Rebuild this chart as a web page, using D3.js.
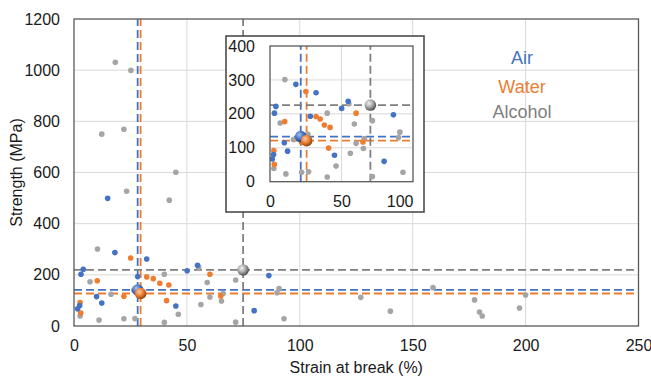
<!DOCTYPE html>
<html>
<head>
<meta charset="utf-8">
<script src="https://cdn.jsdelivr.net/npm/d3@7"></script>
<style>
  body { margin: 0; background: #fff; }
  text { font-family: "Liberation Sans", Arial, sans-serif; }
</style>
</head>
<body>
<svg id="chart" width="651" height="377"></svg>
<script>
// series
const seriesNames = ["Air", "Water", "Alcohol"];
const dotColors = ["#4472C4", "#ED7D31", "#A5A5A5"];
const lineColors = ["#4472C4", "#ED7D31", "#7F7F7F"];
const textColors = ["#4472C4", "#ED7D31", "#7F7F7F"];

// strain at break (%) / strength (MPa)
const airStrain   = [14.9, 18.1, 32.2, 4.1, 3.1, 28.2, 50.1, 54.7, 10, 12.3, 45.1, 2.5, 1.6, 86.3, 79.8];
const airStrength = [499, 287, 262, 222, 202, 193, 216, 237, 115, 90, 78, 80, 67, 197, 60];

const waterStrain   = [25.1, 10.3, 32.2, 35.1, 38, 42, 60.2, 22.1, 41, 65, 2.7, 3];
const waterStrength = [266, 177, 192, 185, 167, 160, 202, 116, 99, 117, 92, 51];

const alcoholStrain   = [18.3, 25.2, 12.3, 22.1, 45.1, 23.3, 42.2, 10.4, 7.1, 40, 55.2, 59, 16.4, 26.5, 60.2, 66, 65.3, 56.2, 46.2, 2.7, 11.1, 22.1, 27, 40, 71.6, 90.8, 89.9, 71.6, 93, 127, 140.1, 159, 177.4, 179.6, 180.8, 197.3, 200];
const alcoholStrength = [1031, 999, 750, 769, 601, 527, 492, 301, 173, 202, 229, 170, 124, 140, 113, 127, 98, 84, 46, 39, 23, 28, 29, 14, 180, 146, 130, 15, 28, 112, 58, 150, 102, 55, 39, 70, 121];

// averages (main chart and inset as drawn)
const meanStrain = [28.2, 29.5, 74.9];
const meanStrength = [141, 127, 219];
const insetMeanStrain = [21.5, 25.6, 70.2];
const insetMeanStrength = [133, 121, 226];

// ticks
const xTicks = [0, 50, 100, 150, 200, 250];
const yTicks = [0, 200, 400, 600, 800, 1000, 1200];
const insetXTicks = [0, 50, 100];
const insetYTicks = [0, 100, 200, 300, 400];

const strains = [airStrain, waterStrain, alcoholStrain];
const strengths = [airStrength, waterStrength, alcoholStrength];
const points = [];
strains.forEach((s, i) => s.forEach((v, j) => points.push({ s: i, x: v, y: strengths[i][j] })));
// draw alcohol first, then water, then air on top
points.sort((a, b) => b.s - a.s);

const svg = d3.select("#chart");

// sphere gradients
const defs = svg.append("defs");
const sphereStops = [["#A9C0EA", "#4472C4", "#1F3E7A"], ["#FAC8A4", "#ED7D31", "#8F4310"], ["#F2F2F2", "#A5A5A5", "#4D4D4D"]];
sphereStops.forEach((c, i) => {
  const g = defs.append("radialGradient").attr("id", "sph" + i)
    .attr("cx", "38%").attr("cy", "35%").attr("r", "65%");
  g.append("stop").attr("offset", "0%").attr("stop-color", c[0]);
  g.append("stop").attr("offset", "55%").attr("stop-color", c[1]);
  g.append("stop").attr("offset", "100%").attr("stop-color", c[2]);
});

function plot(g, x, y, xt, yt, mx, my, opts) {
  const [x0, x1] = x.range();
  const [y0, y1] = y.range();

  // grid
  g.append("g").selectAll("line").data(xt.filter(t => t !== xt[0] && t !== xt[xt.length - 1]))
    .join("line")
    .attr("x1", d => x(d)).attr("x2", d => x(d))
    .attr("y1", y0).attr("y2", y1)
    .attr("stroke", "#D9D9D9").attr("stroke-width", 1);
  g.append("g").selectAll("line").data(yt.filter(t => t !== yt[0] && t !== yt[yt.length - 1]))
    .join("line")
    .attr("x1", x0).attr("x2", x1)
    .attr("y1", d => y(d)).attr("y2", d => y(d))
    .attr("stroke", "#D9D9D9").attr("stroke-width", 1);

  const clipId = opts.clip;
  defs.append("clipPath").attr("id", clipId).append("rect")
    .attr("x", x0).attr("y", y1).attr("width", x1 - x0).attr("height", y0 - y1);
  const inner = g.append("g").attr("clip-path", `url(#${clipId})`);

  // mean lines
  mx.forEach((v, i) => {
    inner.append("line")
      .attr("x1", x(v)).attr("x2", x(v)).attr("y1", y0).attr("y2", y1)
      .attr("stroke", lineColors[i]).attr("stroke-width", 1.8)
      .attr("stroke-dasharray", "8,4");
    inner.append("line")
      .attr("x1", x0).attr("x2", x1).attr("y1", y(my[i])).attr("y2", y(my[i]))
      .attr("stroke", lineColors[i]).attr("stroke-width", 1.8)
      .attr("stroke-dasharray", "8,4");
  });

  // dots
  inner.selectAll("circle.dot").data(points).join("circle")
    .attr("class", "dot")
    .attr("cx", d => x(d.x)).attr("cy", d => y(d.y))
    .attr("r", 2.8)
    .attr("fill", d => dotColors[d.s]);

  // averages
  inner.selectAll("circle.avg").data([2, 0, 1]).join("circle")
    .attr("class", "avg")
    .attr("cx", i => x(mx[i])).attr("cy", i => y(my[i]))
    .attr("r", 5.8)
    .attr("fill", i => `url(#sph${i})`);

  // frame
  g.append("rect")
    .attr("x", x0).attr("y", y1).attr("width", x1 - x0).attr("height", y0 - y1)
    .attr("fill", "none").attr("stroke", "#595959").attr("stroke-width", 1.3);

  // axes labels
  const ax = g.append("g").attr("transform", `translate(0,${y0})`)
    .call(d3.axisBottom(x).tickValues(xt).tickSize(0).tickPadding(opts.xPad).tickFormat(d3.format("d")));
  ax.select(".domain").remove();
  ax.selectAll("text").attr("font-size", 16).attr("fill", "#1a1a1a")
    .attr("font-family", "'Liberation Sans', Arial, sans-serif");
  if (opts.lastEnd) {
    ax.selectAll("text").filter(d => d === xt[xt.length - 1])
      .attr("text-anchor", "end").attr("dx", 0);
  }
  const ay = g.append("g").attr("transform", `translate(${x0},0)`)
    .call(d3.axisLeft(y).tickValues(yt).tickSize(0).tickPadding(opts.yPad).tickFormat(d3.format("d")));
  ay.select(".domain").remove();
  ay.selectAll("text").attr("font-size", 16).attr("fill", "#1a1a1a")
    .attr("font-family", "'Liberation Sans', Arial, sans-serif");
}

// main chart
const x = d3.scaleLinear().domain([0, 250]).range([74, 638.5]);
const y = d3.scaleLinear().domain([0, 1200]).range([326, 19]);
plot(svg.append("g"), x, y, xTicks, yTicks, meanStrain, meanStrength, { clip: "clipMain", xPad: 13.5, yPad: 14 });

// axis titles
svg.append("text")
  .attr("x", (x.range()[0] + x.range()[1]) / 2).attr("y", 373)
  .attr("text-anchor", "middle").attr("font-size", 16).attr("fill", "#1a1a1a")
  .text("Strain at break (%)");
svg.append("text")
  .attr("transform", `translate(22,${(y.range()[0] + y.range()[1]) / 2}) rotate(-90)`)
  .attr("text-anchor", "middle").attr("font-size", 16).attr("fill", "#1a1a1a")
  .text("Strength (MPa)");

// legend
const legendY = [64, 92.5, 118];
svg.append("g").selectAll("text").data(seriesNames).join("text")
  .attr("x", 522).attr("y", (d, i) => legendY[i])
  .attr("text-anchor", "middle").attr("font-size", 18)
  .attr("fill", (d, i) => textColors[i])
  .text(d => d);

// inset
const ins = svg.append("g");
ins.append("rect").attr("x", 226).attr("y", 36).attr("width", 198).attr("height", 176)
  .attr("fill", "#fff").attr("stroke", "#404040").attr("stroke-width", 1.5);
const ix = d3.scaleLinear().domain([0, 100]).range([270, 413]);
const iy = d3.scaleLinear().domain([0, 400]).range([181.7, 46]);
plot(ins, ix, iy, insetXTicks, insetYTicks, insetMeanStrain, insetMeanStrength, { clip: "clipInset", xPad: 14, yPad: 15, lastEnd: true });
</script>
</body>
</html>
